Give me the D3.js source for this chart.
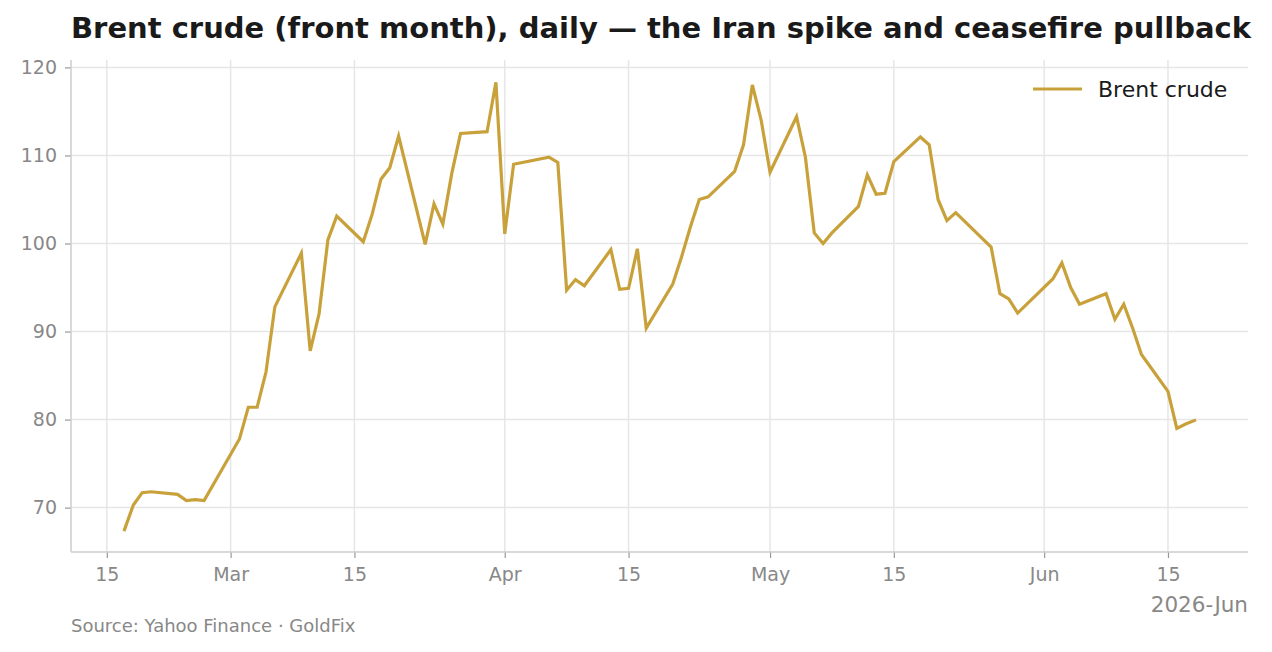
<!DOCTYPE html>
<html>
<head>
<meta charset="utf-8">
<script src="https://cdn.jsdelivr.net/npm/d3@7"></script>
<style>
  html, body { margin: 0; padding: 0; background: #ffffff; }
  svg { display: block; font-family: "DejaVu Sans", sans-serif; }
</style>
</head>
<body>
<svg id="chart" width="1272" height="652"></svg>
<script>
// ---- data ----
const dates = [
  "2026-02-17","2026-02-18","2026-02-19","2026-02-20","2026-02-23","2026-02-24","2026-02-25","2026-02-26",
  "2026-03-02","2026-03-03","2026-03-04","2026-03-05","2026-03-06",
  "2026-03-09","2026-03-10","2026-03-11","2026-03-12","2026-03-13",
  "2026-03-16","2026-03-17","2026-03-18","2026-03-19","2026-03-20",
  "2026-03-23","2026-03-24","2026-03-25","2026-03-26","2026-03-27",
  "2026-03-30","2026-03-31","2026-04-01","2026-04-02",
  "2026-04-06","2026-04-07","2026-04-08","2026-04-09","2026-04-10",
  "2026-04-13","2026-04-14","2026-04-15","2026-04-16","2026-04-17",
  "2026-04-20","2026-04-21","2026-04-22","2026-04-23","2026-04-24",
  "2026-04-27","2026-04-28","2026-04-29","2026-04-30","2026-05-01",
  "2026-05-04","2026-05-05","2026-05-06","2026-05-07","2026-05-08",
  "2026-05-11","2026-05-12","2026-05-13","2026-05-14","2026-05-15",
  "2026-05-18","2026-05-19","2026-05-20","2026-05-21","2026-05-22",
  "2026-05-26","2026-05-27","2026-05-28","2026-05-29",
  "2026-06-02","2026-06-03","2026-06-04","2026-06-05",
  "2026-06-08","2026-06-09","2026-06-10","2026-06-11","2026-06-12",
  "2026-06-15","2026-06-16","2026-06-17","2026-06-18"
];
const brent = [
  67.5, 70.3, 71.7, 71.8, 71.5, 70.8, 70.9, 70.8,
  77.8, 81.4, 81.4, 85.4, 92.8,
  98.9, 87.8, 92.0, 100.4, 103.1,
  100.2, 103.3, 107.3, 108.6, 112.2,
  99.9, 104.5, 102.2, 107.9, 112.5,
  112.7, 118.3, 101.1, 109.0,
  109.8, 109.2, 94.7, 95.9, 95.2,
  99.3, 94.8, 94.9, 99.4, 90.4,
  95.4, 98.5, 101.9, 105.0, 105.3,
  108.2, 111.2, 118.0, 114.0, 108.1,
  114.4, 109.8, 101.2, 100.0, 101.2,
  104.2, 107.8, 105.6, 105.7, 109.3,
  112.1, 111.2, 105.0, 102.6, 103.5,
  99.6, 94.3, 93.7, 92.1,
  96.0, 97.8, 95.0, 93.1,
  94.3, 91.4, 93.1, 90.4, 87.4,
  83.2, 79.0, 79.5, 79.9
];
const xTickDates = ["2026-02-15","2026-03-01","2026-03-15","2026-04-01","2026-04-15","2026-05-01","2026-05-15","2026-06-01","2026-06-15"];
const yTicks = [70, 80, 90, 100, 110, 120];
const seriesName = "Brent crude";
const titleText = "Brent crude (front month), daily \u2014 the Iran spike and ceasefire pullback";
const sourceText = "Source: Yahoo Finance \u00b7 GoldFix";
const offsetText = "2026-Jun";

// ---- layout ----
const W = 1272, H = 652;
const plot = { left: 71, right: 1248, top: 60, bottom: 552 };
const gold = "#c9a13b";
const gridCol = "#e6e6e6";
const spineCol = "#cccccc";
const tickTextCol = "#888888";

const parse = d3.utcParse("%Y-%m-%d");
const data = dates.map((d, i) => ({ date: parse(d), value: brent[i] }));

const t0 = data[0].date.getTime(), t1 = data[data.length - 1].date.getTime();
const tpad = (t1 - t0) * 0.05;
const x = d3.scaleUtc()
  .domain([new Date(t0 - tpad), new Date(t1 + tpad)])
  .range([plot.left, plot.right]);

const vmin = d3.min(brent), vmax = d3.max(brent);
const vpad = (vmax - vmin) * 0.05;
const y = d3.scaleLinear()
  .domain([vmin - vpad, vmax + vpad])
  .range([plot.bottom, plot.top]);

const svg = d3.select("#chart");
svg.append("rect").attr("width", W).attr("height", H).attr("fill", "#fff");

const xTicks = xTickDates.map(parse);
const fmtMonth = d3.utcFormat("%b");
const fmtDay = d3.utcFormat("%-d");
const xFmt = d => d.getUTCDate() === 1 ? fmtMonth(d) : fmtDay(d);

// grid
const grid = svg.append("g");
grid.selectAll("line.gx").data(xTicks).join("line")
  .attr("x1", d => x(d)).attr("x2", d => x(d))
  .attr("y1", plot.top).attr("y2", plot.bottom)
  .attr("stroke", gridCol).attr("stroke-width", 1.5);
grid.selectAll("line.gy").data(yTicks).join("line")
  .attr("x1", plot.left).attr("x2", plot.right)
  .attr("y1", d => y(d)).attr("y2", d => y(d))
  .attr("stroke", gridCol).attr("stroke-width", 1.5);

// axes
const xAxis = d3.axisBottom(x).tickValues(xTicks).tickFormat(xFmt).tickSize(6).tickPadding(10);
const gx = svg.append("g").attr("transform", `translate(0,${plot.bottom})`).call(xAxis);
gx.select(".domain").remove();
gx.selectAll(".tick line").attr("stroke", "#999").attr("stroke-width", 1.2);
gx.selectAll(".tick text").attr("fill", tickTextCol).attr("font-size", 19).attr("font-family", "DejaVu Sans");

const yAxis = d3.axisLeft(y).tickValues(yTicks).tickFormat(d3.format("d")).tickSize(6).tickPadding(8);
const gy = svg.append("g").attr("transform", `translate(${plot.left},0)`).call(yAxis);
gy.select(".domain").remove();
gy.selectAll(".tick line").attr("stroke", "#999").attr("stroke-width", 1.2);
gy.selectAll(".tick text").attr("fill", tickTextCol).attr("font-size", 19).attr("font-family", "DejaVu Sans");

// spines
svg.append("line").attr("x1", plot.left).attr("x2", plot.left).attr("y1", plot.top).attr("y2", plot.bottom)
  .attr("stroke", spineCol).attr("stroke-width", 1.5);
svg.append("line").attr("x1", plot.left).attr("x2", plot.right).attr("y1", plot.bottom).attr("y2", plot.bottom)
  .attr("stroke", spineCol).attr("stroke-width", 1.5);

// line
const line = d3.line().x(d => x(d.date)).y(d => y(d.value));
svg.append("path").datum(data)
  .attr("d", line)
  .attr("fill", "none")
  .attr("stroke", gold)
  .attr("stroke-width", 3.2)
  .attr("stroke-linejoin", "miter")
  .attr("stroke-linecap", "square");

// legend
const lg = svg.append("g");
lg.append("line").attr("x1", 1033).attr("x2", 1082).attr("y1", 89).attr("y2", 89)
  .attr("stroke", gold).attr("stroke-width", 3.2);
lg.append("text").attr("x", 1098).attr("y", 97).attr("font-size", 22).attr("fill", "#1a1a1a")
  .text(seriesName);

// title
svg.append("text").attr("x", 71).attr("y", 38)
  .attr("font-size", 29).attr("font-weight", "bold").attr("fill", "#1a1a1a")
  .text(titleText);

// offset text
svg.append("text").attr("x", plot.right).attr("y", 612).attr("text-anchor", "end")
  .attr("font-size", 21.5).attr("fill", tickTextCol).text(offsetText);

// source
svg.append("text").attr("x", 71).attr("y", 632)
  .attr("font-size", 18).attr("fill", tickTextCol).text(sourceText);
</script>
</body>
</html>
